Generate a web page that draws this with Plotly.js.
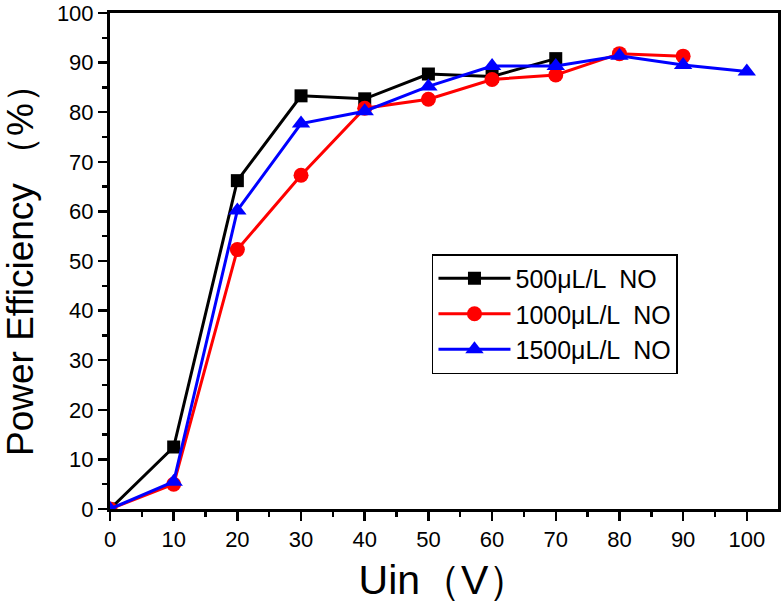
<!DOCTYPE html>
<html>
<head>
<meta charset="utf-8">
<script src="https://cdn.plot.ly/plotly-3.0.1.min.js"></script>
<style>
html,body{margin:0;padding:0;background:#fff;}
#chart{width:782px;height:603px;}
</style>
</head>
<body>
<div id="chart"></div>
<script>
// Data
const names = ["500μL/L  NO", "1000μL/L  NO", "1500μL/L  NO"];
const x500 = [0, 10, 20, 30, 40, 50, 60, 70];
const y500 = [0, 12.5, 66.2, 83.3, 82.7, 87.7, 87.2, 90.8];
const x1000 = [0, 10, 20, 30, 40, 50, 60, 70, 80, 90];
const y1000 = [0, 5.0, 52.3, 67.3, 80.8, 82.6, 86.6, 87.5, 91.8, 91.3];
const x1500 = [0, 10, 20, 30, 40, 50, 60, 70, 80, 90, 100];
const y1500 = [0, 5.5, 60.2, 77.7, 80.2, 85.2, 89.3, 89.3, 91.4, 89.5, 88.2];
const xTicks = [0, 10, 20, 30, 40, 50, 60, 70, 80, 90, 100];
const yTicks = [0, 10, 20, 30, 40, 50, 60, 70, 80, 90, 100];

const fontFam = "Liberation Sans, Arial, sans-serif";
const traces = [
  {x: x500, y: y500, name: names[0], mode: "lines+markers",
   line: {color: "#000000", width: 3}, marker: {symbol: "square", size: 13, color: "#000000"}},
  {x: x1000, y: y1000, name: names[1], mode: "lines+markers",
   line: {color: "#ff0000", width: 3}, marker: {symbol: "circle", size: 15, color: "#ff0000"}},
  {x: x1500, y: y1500, name: names[2], mode: "lines+markers",
   line: {color: "#0000ff", width: 3}, marker: {symbol: "triangle-up", size: 16, color: "#0000ff"}}
];

const axisCommon = {
  showgrid: false, zeroline: false, showline: true, mirror: true,
  linecolor: "#000", linewidth: 3, ticks: "outside", ticklen: 9, tickwidth: 2.5,
  tickcolor: "#000", tickfont: {family: fontFam, size: 22, color: "#000"},
  minor: {ticks: "outside", ticklen: 5, tickwidth: 2.5, tickcolor: "#000", dtick: 5}
};

const layout = {
  width: 782, height: 603,
  margin: {l: 110, r: 4, t: 13, b: 94},
  paper_bgcolor: "#fff", plot_bgcolor: "#fff",
  showlegend: true,
  xaxis: Object.assign({}, axisCommon, {
    range: [0, 104.9], tickvals: xTicks, ticktext: xTicks.map(String),
    title: {text: "Uin（V）", font: {family: fontFam, size: 41, color: "#000"}, standoff: 16}
  }),
  yaxis: Object.assign({}, axisCommon, {
    range: [0, 100], tickvals: yTicks, ticktext: yTicks.map(String),
    title: {text: "Power Efficiency （%）", font: {family: fontFam, size: 37, color: "#000"}, standoff: 14}
  }),
  legend: {
    x: 0.482, y: 0.514, xanchor: "left", yanchor: "top",
    bgcolor: "#fff", bordercolor: "#000", borderwidth: 1.5,
    font: {family: fontFam, size: 25, color: "#000"},
    tracegroupgap: 0, itemwidth: 72
  }
};

Plotly.newPlot("chart", traces, layout, {displayModeBar: false, staticPlot: true});
</script>
</body>
</html>
